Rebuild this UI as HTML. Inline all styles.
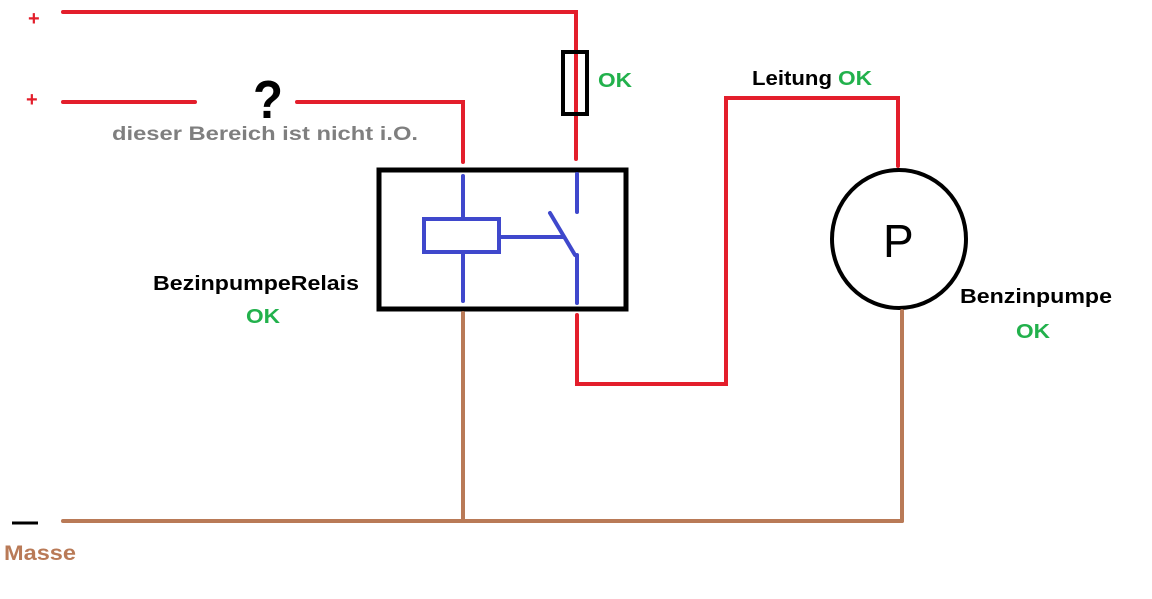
<!DOCTYPE html>
<html><head><meta charset="utf-8"><style>
html,body{margin:0;padding:0;background:#fff;}
svg{display:block;}
text{font-family:"Liberation Sans",sans-serif;font-weight:bold;}
</style></head><body>
<svg width="1152" height="599" viewBox="0 0 1152 599" xmlns="http://www.w3.org/2000/svg">
<g fill="none" stroke-linecap="round" stroke-linejoin="miter">
<polyline points="63,12 576,12 576,159" stroke="#e31e2b" stroke-width="4"/>
<polyline points="63,102 195,102" stroke="#e31e2b" stroke-width="4"/>
<polyline points="297,102 463,102 463,162" stroke="#e31e2b" stroke-width="4"/>
<polyline points="577,315 577,384 726,384 726,98 898,98 898,166" stroke="#e31e2b" stroke-width="4"/>
<rect x="563" y="52" width="24" height="62" stroke="#000" stroke-width="4"/>
<rect x="379" y="170" width="247" height="139" stroke="#000" stroke-width="5"/>
<g stroke="#3f48cc" stroke-width="4">
<line x1="463" y1="176" x2="463" y2="218"/>
<line x1="463" y1="253" x2="463" y2="301"/>
<rect x="424" y="219" width="75" height="33"/>
<line x1="500" y1="237" x2="563" y2="237"/>
<line x1="577" y1="174" x2="577" y2="212"/>
<line x1="550" y1="213" x2="575" y2="255"/>
<line x1="577" y1="255" x2="577" y2="303"/>
</g>
<ellipse cx="899" cy="239" rx="67" ry="69" stroke="#000" stroke-width="4"/>
<g stroke="#b97a57" stroke-width="4">
<line x1="463" y1="313" x2="463" y2="521"/>
<line x1="902" y1="311" x2="902" y2="521"/>
<line x1="63" y1="521" x2="902" y2="521"/>
</g>
<line x1="12" y1="523" x2="38" y2="523" stroke="#000" stroke-width="3" stroke-linecap="butt"/>
</g>
<text x="28" y="25" fill="#e31e2b" font-size="20">+</text>
<text x="26" y="106" fill="#e31e2b" font-size="20">+</text>
<text x="253" y="118" fill="#000" font-size="54" textLength="30" lengthAdjust="spacingAndGlyphs">?</text>
<text x="112" y="140" fill="#7f7f7f" font-size="19" textLength="306" lengthAdjust="spacingAndGlyphs">dieser Bereich ist nicht  i.O.</text>
<text x="598" y="87" fill="#22b14c" font-size="20" textLength="34" lengthAdjust="spacingAndGlyphs">OK</text>
<text x="752" y="85" fill="#000" font-size="20" textLength="80" lengthAdjust="spacingAndGlyphs">Leitung</text>
<text x="838" y="85" fill="#22b14c" font-size="20" textLength="34" lengthAdjust="spacingAndGlyphs">OK</text>
<text x="153" y="290" fill="#000" font-size="20" textLength="206" lengthAdjust="spacingAndGlyphs">BezinpumpeRelais</text>
<text x="246" y="323" fill="#22b14c" font-size="20" textLength="34" lengthAdjust="spacingAndGlyphs">OK</text>
<text x="960" y="303" fill="#000" font-size="20" textLength="152" lengthAdjust="spacingAndGlyphs">Benzinpumpe</text>
<text x="1016" y="338" fill="#22b14c" font-size="20" textLength="34" lengthAdjust="spacingAndGlyphs">OK</text>
<text x="4" y="560" fill="#b97a57" font-size="21" textLength="72" lengthAdjust="spacingAndGlyphs">Masse</text>
<text x="883" y="257" fill="#000" font-size="46" style="font-weight:normal">P</text>
</svg>
</body></html>
